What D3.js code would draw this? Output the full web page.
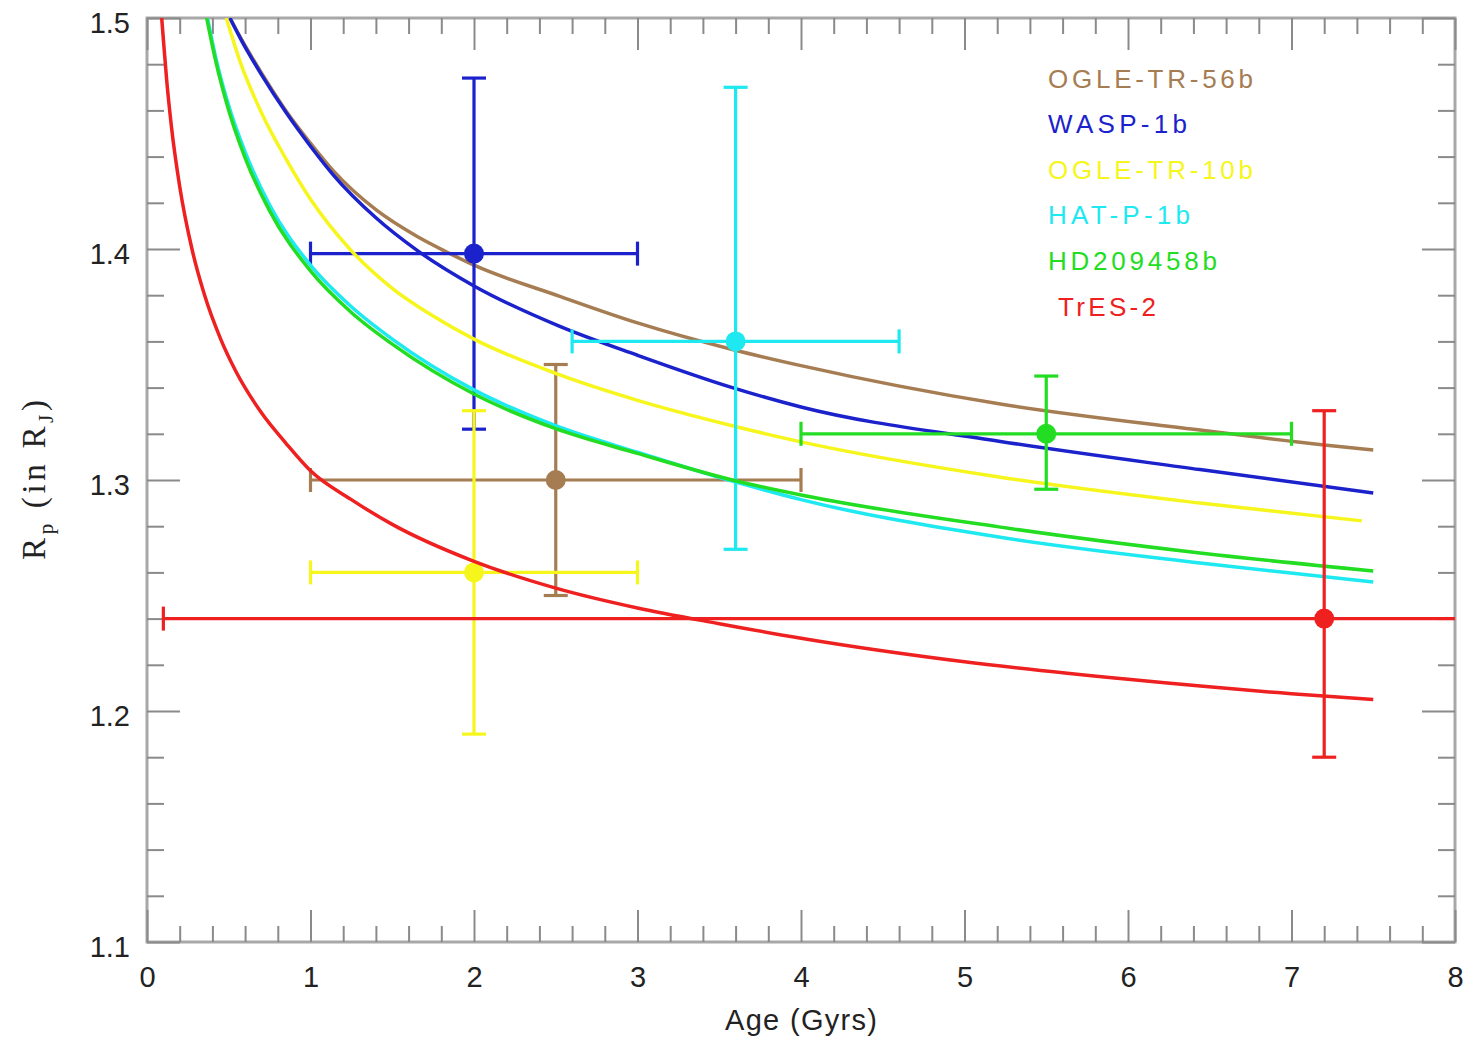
<!DOCTYPE html>
<html>
<head>
<meta charset="utf-8">
<script src="https://cdn.jsdelivr.net/npm/d3@7"></script>
<style>
  body { margin: 0; background: #fff; }
  svg { display: block; }
  .tick text { font-family: "Liberation Sans", Arial, sans-serif; }
</style>
</head>
<body>
<svg id="chart" width="1469" height="1040"></svg>
<script>
// Planets, in legend order
const planets = ["OGLE-TR-56b", "WASP-1b", "OGLE-TR-10b", "HAT-P-1b", "HD209458b", " TrES-2"];
const colors  = ["#a67c52", "#1b22cc", "#f6f61c", "#1ee8f0", "#22dd22", "#ee2020"];

// Observed ages (Gyr) with ranges
const ageObs = [2.5, 2.0, 2.0, 3.6, 5.5, 7.2];
const ageLo  = [1.0, 1.0, 1.0, 2.6, 4.0, 0.1];
const ageHi  = [4.0, 3.0, 3.0, 4.6, 7.0, 14.3];
// Observed radii (R_J) with ranges
const radObs = [1.30, 1.398, 1.26, 1.36, 1.32, 1.24];
const radLo  = [1.25, 1.322, 1.19, 1.27, 1.296, 1.18];
const radHi  = [1.35, 1.474, 1.33, 1.47, 1.345, 1.33];

// Model radius tracks [age, radius]
const trackOGLE56 = [[0.507,1.50],[0.58,1.4905],[0.7,1.4762],[0.856,1.4592],[1.0,1.4458],[1.14,1.4338],[1.4,1.417],[1.65,1.4055],[1.83,1.3988],[2.0,1.393],[2.525,1.3795],[3.0,1.368],[3.58,1.3565],[4.0,1.3495],[5.21,1.333],[6.44,1.3216],[7.2,1.3152],[7.5,1.313]];
const trackWASP1  = [[0.507,1.50],[0.58,1.490],[0.7,1.4755],[0.856,1.4585],[1.0,1.4445],[1.14,1.432],[1.4,1.4135],[1.65,1.3995],[2.0,1.384],[2.525,1.3665],[3.0,1.354],[3.58,1.340],[4.0,1.3316],[5.21,1.3168],[6.44,1.3045],[7.5,1.2944]];
const trackOGLE10 = [[0.485,1.50],[0.57,1.481],[0.7,1.459],[0.85,1.439],[1.0,1.4215],[1.24,1.400],[1.5,1.383],[1.75,1.371],[2.0,1.361],[2.525,1.3455],[3.0,1.3345],[3.58,1.3235],[4.0,1.3165],[5.21,1.3013],[6.44,1.290],[7.43,1.2823]];
const trackHATP1  = [[0.37,1.50],[0.42,1.483],[0.5,1.462],[0.6,1.442],[0.75,1.419],[1.0,1.393],[1.25,1.375],[1.5,1.361],[2.0,1.339],[2.5,1.3235],[3.0,1.312],[3.58,1.2995],[4.0,1.2915],[5.21,1.2753],[6.44,1.2641],[7.5,1.2558]];
const trackHD209  = [[0.365,1.50],[0.415,1.483],[0.5,1.46],[0.6,1.4395],[0.75,1.4165],[1.0,1.3905],[1.25,1.3725],[1.5,1.3588],[2.0,1.3372],[2.5,1.3222],[3.0,1.3115],[3.58,1.300],[4.0,1.2935],[5.21,1.2797],[6.44,1.2684],[7.5,1.2606]];
const trackTrES2  = [[0.09,1.50],[0.1,1.4908],[0.12,1.4734],[0.15,1.4526],[0.2,1.4271],[0.275,1.400],[0.35,1.3805],[0.45,1.3611],[0.54,1.3475],[0.7,1.3291],[0.85,1.3159],[1.0,1.304],[1.25,1.2915],[1.5,1.2808],[2.0,1.2648],[2.5,1.2532],[3.0,1.2446],[3.5,1.2378],[4.0,1.2315],[5.0,1.2213],[6.0,1.2137],[7.0,1.2075],[7.5,1.205]];
const tracks = [trackOGLE56, trackWASP1, trackOGLE10, trackHATP1, trackHD209, trackTrES2];

// Axis ticks
const xMajor = [0, 1, 2, 3, 4, 5, 6, 7, 8];
const xTickLabels = ["0", "1", "2", "3", "4", "5", "6", "7", "8"];
const yMajor = [1.1, 1.2, 1.3, 1.4, 1.5];
const yTickLabels = ["1.1", "1.2", "1.3", "1.4", "1.5"];
const xMinor = d3.range(0, 8.001, 0.2).filter(v => Math.abs(v - Math.round(v)) > 1e-6);
const yMinor = d3.range(1.1, 1.5001, 0.02).filter(v => Math.abs(v * 10 - Math.round(v * 10)) > 1e-6);

const svg = d3.select("#chart");
const L = 147, R = 1455, T = 18, B = 942;
const x = d3.scaleLinear().domain([0, 8]).range([L, R]);
const y = d3.scaleLinear().domain([1.1, 1.5]).range([B, T]);

svg.append("defs").append("clipPath").attr("id", "plotClip")
  .append("rect").attr("x", L).attr("y", T).attr("width", R - L).attr("height", B - T);

// Frame
svg.append("rect").attr("x", L).attr("y", T).attr("width", R - L).attr("height", B - T)
  .attr("fill", "none").attr("stroke", "#a8a8a8").attr("stroke-width", 3);

function styleAxis(g) {
  g.select(".domain").remove();
  g.selectAll(".tick line").attr("stroke", "#8a8a8a").attr("stroke-width", 2);
}

// Bottom
svg.append("g").attr("transform", `translate(0,${B})`)
  .call(d3.axisBottom(x).tickValues(xMinor).tickSize(-16).tickFormat(""))
  .call(styleAxis);
svg.append("g").attr("transform", `translate(0,${B})`)
  .call(d3.axisBottom(x).tickValues(xMajor).tickSize(-32).tickPadding(24)
        .tickFormat((d, i) => xTickLabels[i]))
  .call(styleAxis)
  .call(g => g.selectAll(".tick text").attr("font-size", 29).attr("fill", "#222"));
// Top
svg.append("g").attr("transform", `translate(0,${T})`)
  .call(d3.axisTop(x).tickValues(xMinor).tickSize(-16).tickFormat(""))
  .call(styleAxis);
svg.append("g").attr("transform", `translate(0,${T})`)
  .call(d3.axisTop(x).tickValues(xMajor).tickSize(-32).tickFormat(""))
  .call(styleAxis);
// Left
svg.append("g").attr("transform", `translate(${L},0)`)
  .call(d3.axisLeft(y).tickValues(yMinor).tickSize(-17).tickFormat(""))
  .call(styleAxis);
svg.append("g").attr("transform", `translate(${L},0)`)
  .call(d3.axisLeft(y).tickValues(yMajor).tickSize(-33).tickPadding(17)
        .tickFormat((d, i) => yTickLabels[i]))
  .call(styleAxis)
  .call(g => g.selectAll(".tick text").attr("font-size", 29).attr("fill", "#222").attr("dy", "0.5em"));
// Right
svg.append("g").attr("transform", `translate(${R},0)`)
  .call(d3.axisRight(y).tickValues(yMinor).tickSize(-17).tickFormat(""))
  .call(styleAxis);
svg.append("g").attr("transform", `translate(${R},0)`)
  .call(d3.axisRight(y).tickValues(yMajor).tickSize(-33).tickFormat(""))
  .call(styleAxis);

// Axis titles
svg.append("text")
  .attr("x", x(4)).attr("y", 1030)
  .attr("text-anchor", "middle")
  .attr("font-family", "Liberation Sans, Arial, sans-serif")
  .attr("font-size", 29).attr("fill", "#222")
  .attr("textLength", 152).attr("lengthAdjust", "spacing")
  .text("Age (Gyrs)");

const yt = svg.append("text")
  .attr("transform", `translate(45,${(T + B) / 2}) rotate(-90)`)
  .attr("text-anchor", "middle")
  .attr("font-family", "Liberation Serif, Times New Roman, serif")
  .attr("font-size", 33).attr("fill", "#222")
  .attr("textLength", 160).attr("lengthAdjust", "spacing");
yt.append("tspan").text("R");
yt.append("tspan").attr("font-size", 21).attr("dy", 8).text("p");
yt.append("tspan").attr("dy", -8).text(" (in R");
yt.append("tspan").attr("font-size", 21).attr("dy", 8).text("J");
yt.append("tspan").attr("dy", -8).text(")");

// Data layer
const plot = svg.append("g").attr("clip-path", "url(#plotClip)");
const line = d3.line().x(d => x(d[0])).y(d => y(d[1])).curve(d3.curveMonotoneX);
const cap = 12;

planets.forEach((name, i) => {
  const c = colors[i];
  const g = plot.append("g");
  g.append("path").datum(tracks[i]).attr("d", line)
    .attr("fill", "none").attr("stroke", c).attr("stroke-width", 3.5);

  const cx = x(ageObs[i]), cy = y(radObs[i]);
  const eb = g.append("g").attr("stroke", c).attr("stroke-width", 3.2).attr("fill", "none");
  // horizontal bar + caps
  eb.append("line").attr("x1", x(ageLo[i])).attr("x2", x(ageHi[i])).attr("y1", cy).attr("y2", cy);
  eb.append("line").attr("x1", x(ageLo[i])).attr("x2", x(ageLo[i])).attr("y1", cy - cap).attr("y2", cy + cap);
  eb.append("line").attr("x1", x(ageHi[i])).attr("x2", x(ageHi[i])).attr("y1", cy - cap).attr("y2", cy + cap);
  // vertical bar + caps
  eb.append("line").attr("x1", cx).attr("x2", cx).attr("y1", y(radLo[i])).attr("y2", y(radHi[i]));
  eb.append("line").attr("x1", cx - cap).attr("x2", cx + cap).attr("y1", y(radLo[i])).attr("y2", y(radLo[i]));
  eb.append("line").attr("x1", cx - cap).attr("x2", cx + cap).attr("y1", y(radHi[i])).attr("y2", y(radHi[i]));
  g.append("circle").attr("cx", cx).attr("cy", cy).attr("r", 10).attr("fill", c);
});

// Legend
const legendY = [88, 133, 179, 224, 270, 316];
const legendW = [205, 139, 205, 142, 169, 108];
svg.append("g").selectAll("text").data(planets).join("text")
  .attr("x", 1048).attr("y", (d, i) => legendY[i])
  .attr("font-family", "Liberation Sans, Arial, sans-serif")
  .attr("font-size", 26)
  .style("white-space", "pre")
  .attr("textLength", (d, i) => legendW[i]).attr("lengthAdjust", "spacing")
  .attr("fill", (d, i) => colors[i])
  .text(d => d);
</script>
</body>
</html>
